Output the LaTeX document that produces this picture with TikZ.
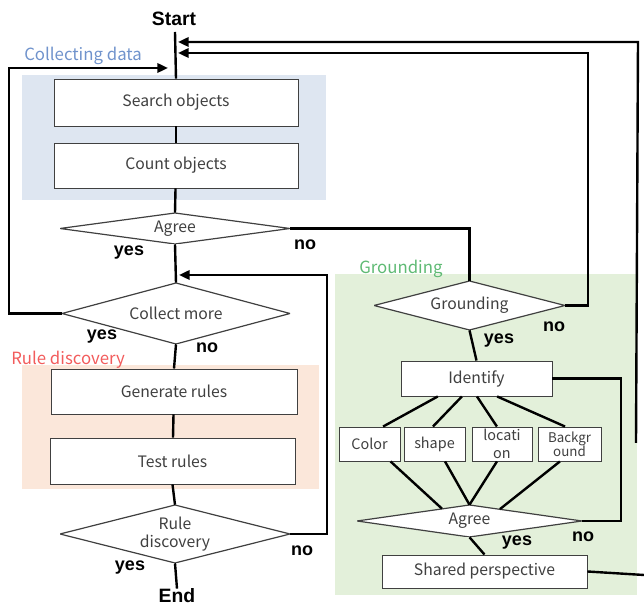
\documentclass[tikz,border=0pt]{standalone}
\usepackage{fontspec}
\setmainfont{Noto Sans CJK JP}
\newfontfamily\labfont{Liberation Sans}
\usetikzlibrary{shapes.geometric,arrows.meta,calc}
\definecolor{txt}{HTML}{404040}
\definecolor{bgblue}{HTML}{DEE6F1}
\definecolor{bgpeach}{HTML}{FBE7DA}
\definecolor{bggreen}{HTML}{E3F0DA}
\definecolor{tblue}{HTML}{7093CC}
\definecolor{tgreen}{HTML}{5FBA74}
\definecolor{tred}{HTML}{F25C5C}
\tikzset{
  box/.style={draw=black!75, line width=0.7pt, fill=white, rectangle, inner sep=0pt, text=txt, font=\fontsize{11.8}{13.5}\selectfont},
  dia/.style={rectangle, inner sep=0pt, text=txt, font=\fontsize{11.8}{13.5}\selectfont, align=center,
    path picture={\draw[draw=black!75, line width=0.9pt, fill=white]
      (path picture bounding box.west) -- (path picture bounding box.north) --
      (path picture bounding box.east) -- (path picture bounding box.south) -- cycle;}},
  small/.style={box, font=\fontsize{10.8}{13}\selectfont, align=center},
  conn/.style={draw=black, line width=1.8pt},
  arr/.style={conn, -{Triangle[length=8pt,width=7pt]}},
  lab/.style={font=\labfont\bfseries\fontsize{13.5}{15}\selectfont, inner sep=0pt},
  sect/.style={font=\fontsize{12.6}{15}\selectfont, inner sep=0pt, anchor=west},
}
\begin{document}
\begin{tikzpicture}[x=0.75pt,y=-0.75pt]
\useasboundingbox (0,0) rectangle (644,605);
% backgrounds
\fill[bgblue] (22,75) rectangle (326,200);
\fill[bgpeach] (22,365) rectangle (319,489);
\fill[bggreen] (335,274) rectangle (637,595);
% section titles
\node[sect, text=tblue] (t1) at (24,56) {Collecting data};
\node[sect, text=tgreen] (t2) at (359,269) {Grounding};
\node[sect, text=tred] (t3) at (11,360) {Rule discovery};
% left column
\node[lab, font=\labfont\bfseries\fontsize{14.5}{16}\selectfont] (start) at (174,19) {Start};
\coordinate (s0) at (175,32);
\node[box, minimum width=183pt, minimum height=35.25pt] (search) at (176,102.5) {Search objects};
\node[box, minimum width=183pt, minimum height=33.75pt] (count) at (176,165.5) {Count objects};
\node[dia, minimum width=172.5pt, minimum height=23.25pt] (agree1) at (175,228.5) {Agree};
\node[dia, minimum width=171pt, minimum height=45.75pt] (collect) at (176,313.5) {Collect more};
\node[box, minimum width=184.5pt, minimum height=33.75pt] (gen) at (174,391.5) {Generate rules};
\node[box, minimum width=183.75pt, minimum height=34.5pt] (test) at (172.5,461) {Test rules};
\node[dia, minimum width=172.5pt, minimum height=43.5pt] (rd) at (175,534) {Rule\\discovery};
\node[lab, font=\labfont\bfseries\fontsize{14.5}{16}\selectfont] (end) at (177,596) {End};
% right column
\node[dia, minimum width=143.25pt, minimum height=36.75pt] (ground) at (469.5,305.5) {Grounding};
\node[box, minimum width=113.25pt, minimum height=26.25pt] (ident) at (476.5,378.5) {Identify};
\node[small, minimum width=45.75pt, minimum height=25.5pt] (color) at (369.5,444) {Color};
\node[small, minimum width=45.75pt, minimum height=25.5pt] (shape) at (434.5,444) {shape};
\node[small, minimum width=45pt, minimum height=25.5pt] (loc) at (502,444) {locati\\on};
\node[small, minimum width=47.25pt, minimum height=25.5pt, font=\fontsize{10}{10.5}\selectfont] (backg) at (569.5,444) {Backgr\\ound};
\node[dia, minimum width=168.75pt, minimum height=24pt] (agree2) at (469.5,521) {Agree};
\node[box, minimum width=153.75pt, minimum height=24.75pt] (shared) at (484.5,571.5) {Shared perspective};
% main spine
\draw[conn] (s0) -- (search.north);
\draw[conn] (search) -- (count);
\draw[conn] (count) -- (agree1.north);
\draw[conn] (agree1.south) -- (collect.north);
\draw[conn] (collect.south) -- (gen.north);
\draw[conn] (gen) -- (test);
\draw[conn] (test.south) -- (rd.north);
\draw[conn] (rd.south) -- (end.north);
% loops
\coordinate (a1) at (178,42);
\coordinate (a2) at (178,53);
\coordinate (a3) at (168,68);
\coordinate (a4) at (179,275);
\coordinate (o1) at (636,443);
\coordinate (o2) at (638,42);
\coordinate (g1) at (588,53);
\coordinate (c1) at (9,68);
\coordinate (r1) at (327,275);
\coordinate (i1) at (621,0);
\coordinate (sh1) at (644,575);
\draw[arr] (o1) -- (o2) -- (a1);
\draw[arr] (ground.east) -| (g1) -- (a2);
\draw[arr] (collect.west) -| (c1) -- (a3);
\draw[arr] (rd.east) -| (r1) -- (a4);
\draw[conn] (agree1.east) -| (ground.north);
\draw[conn] (ground.south) -- (ident.north);
\draw[conn] (ident.east) -- (ident.east -| i1) -- (agree2.east -| i1) -- (agree2.east);
\draw[conn] (shared.east) -- (sh1);
\draw[conn] (agree2.south) -- (shared.north);
% identify to attributes
\draw[conn] ($(ident.south west)!0.245!(ident.south east)$) -- ($(color.north west)!0.72!(color.north east)$);
\draw[conn] ($(ident.south west)!0.404!(ident.south east)$) -- ($(shape.north west)!0.475!(shape.north east)$);
\draw[conn] ($(ident.south west)!0.503!(ident.south east)$) -- ($(loc.north west)!0.417!(loc.north east)$);
\draw[conn] ($(ident.south west)!0.636!(ident.south east)$) -- ($(backg.north west)!0.43!(backg.north east)$);
% attributes to agree
\draw[conn] ($(color.south west)!0.84!(color.south east)$) -- ($(agree2.north)!0.244!(agree2.west)$);
\draw[conn] ($(shape.south west)!0.67!(shape.south east)$) -- (agree2.north);
\draw[conn] ($(loc.south west)!0.417!(loc.south east)$) -- (agree2.north);
\draw[conn] ($(backg.south west)!0.35!(backg.south east)$) -- ($(agree2.north)!0.27!(agree2.east)$);
% yes / no labels
\node[lab] (y1) at (129,253) {yes};
\node[lab] (n1) at (305,245) {no};
\node[lab] (y2) at (102,337) {yes};
\node[lab] (n2) at (207,348) {no};
\node[lab] (y3) at (130,568) {yes};
\node[lab] (n3) at (302,551) {no};
\node[lab] (n4) at (554,327) {no};
\node[lab] (y4) at (499,341) {yes};
\node[lab] (y5) at (517,543) {yes};
\node[lab] (n5) at (583,537) {no};
\end{tikzpicture}
\end{document}
